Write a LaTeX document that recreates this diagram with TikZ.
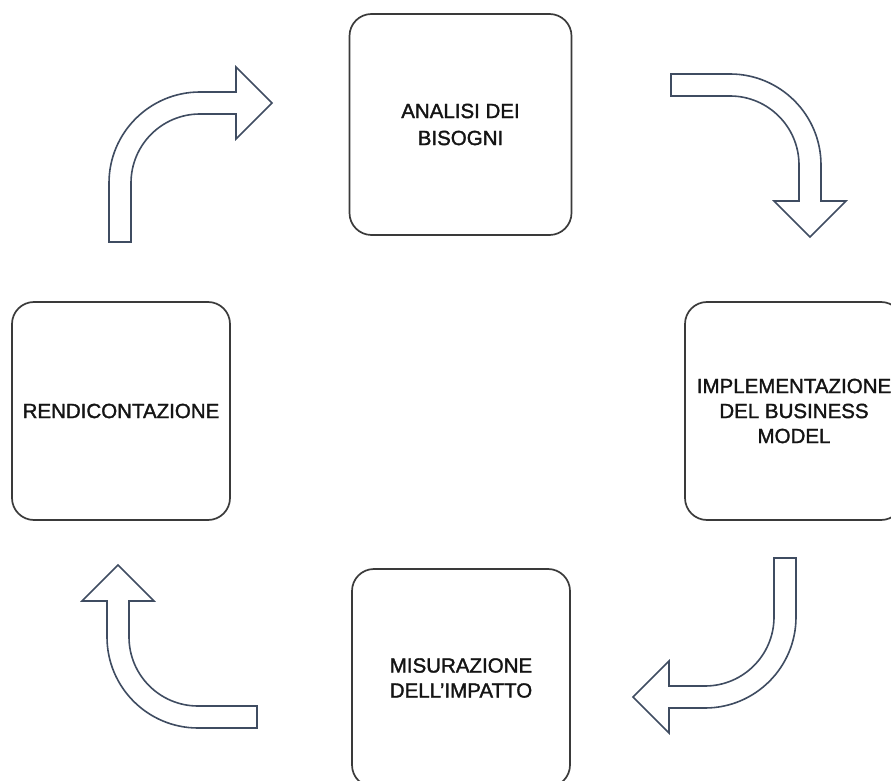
\documentclass[tikz,border=0pt]{standalone}
\usepackage{fontspec}
\setmainfont{Liberation Sans}
\newfontfamily\boxfont{Liberation Sans}[FakeBold=1.6]
\definecolor{boxgray}{HTML}{3A3A3A}
\definecolor{arrnavy}{HTML}{3F4C61}
\definecolor{txtblack}{HTML}{141414}
\tikzset{
	cbox/.style={draw=boxgray, line width=1.7pt, rounded corners=22pt,
		minimum width=218pt, minimum height=218pt, inner sep=0pt,
		align=center, text=txtblack, font=\boxfont\fontsize{20.5}{25}\selectfont},
	carr/.style={draw=arrnavy, line width=1.6pt, fill=white, line join=miter}
}
% hollow bent arrow: shift, rotation
\newcommand{\blockturn}[2]{%
	\draw[carr, shift={#1}, rotate=#2]
		(-91,-59) -- (-91,0) arc[start angle=180, end angle=90, radius=91pt]
		-- (36,91) -- (36,116) -- (72,80) -- (36,44) -- (36,69) -- (0,69)
		arc[start angle=90, end angle=180, radius=69pt] -- (-69,-59) -- cycle;}

\begin{document}
\begin{tikzpicture}[x=1pt, y=1pt]
	\clip (0,0) rectangle (891,780);
	\node[cbox, minimum width=222pt, minimum height=221pt,
		font=\boxfont\fontsize{20.5}{27}\selectfont] (need) at (460.5,655.5) {ANALISI DEI\\BISOGNI};
	\node[cbox] (impl) at (794,369) {IMPLEMENTAZIONE\\DEL BUSINESS\\MODEL};
	\node[cbox] (meas) at (461,102) {MISURAZIONE\\DELL’IMPATTO};
	\node[cbox] (rep) at (121,369) {RENDICONTAZIONE};
	\blockturn{(200,597)}{0}
	\blockturn{(730,615)}{-90}
	\blockturn{(705,163)}{180}
	\blockturn{(198,143)}{90}
\end{tikzpicture}
\end{document}
